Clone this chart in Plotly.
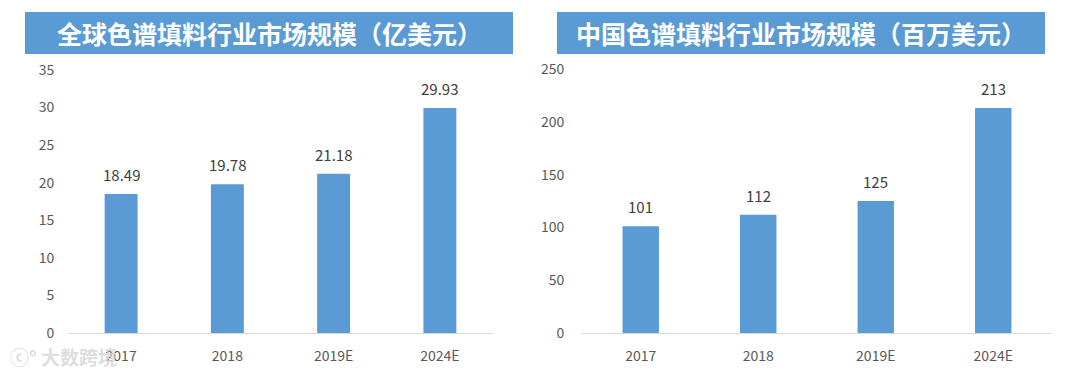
import plotly.graph_objects as go

categories = ["2017", "2018", "2019E", "2024E"]
global_values = [18.49, 19.78, 21.18, 29.93]
china_values = [101, 112, 125, 213]
global_labels = ["18.49", "19.78", "21.18", "29.93"]
china_labels = ["101", "112", "125", "213"]
title_left = "全球色谱填料行业市场规模（亿美元）"
title_right = "中国色谱填料行业市场规模（百万美元）"

OFF = 8  # page body margin
W, H = 1080 - 2 * OFF, 377 - 2 * OFF
BAR = "#5B9BD5"
FONT = "Noto Sans CJK SC, Lato, DejaVu Sans, sans-serif"

def px_x(x):
    return (x - OFF) / W

def px_y(y):
    return (H - (y - OFF)) / H

fig = go.Figure()
fig.add_trace(go.Bar(x=categories, y=global_values,
                     marker=dict(color=BAR, line=dict(width=0)),
                     width=0.31, xaxis="x", yaxis="y", hoverinfo="x+y"))
fig.add_trace(go.Bar(x=categories, y=china_values,
                     marker=dict(color=BAR, line=dict(width=0)),
                     width=0.31, xaxis="x2", yaxis="y2", hoverinfo="x+y"))

axis_common = dict(showgrid=False, zeroline=False, automargin=False,
                   tickfont=dict(size=14, color="#595959", family=FONT))
xcommon = dict(type="category", categoryorder="array", categoryarray=categories,
               showline=True, linecolor="#D9D9D9", linewidth=1,
               ticks="outside", ticklen=10, tickcolor="rgba(0,0,0,0)")
fig.update_layout(
    template="none",
    width=W, height=H, margin=dict(l=0, r=0, t=0, b=0, pad=0, autoexpand=False),
    paper_bgcolor="white", plot_bgcolor="white", showlegend=False,
    font=dict(family=FONT),
    xaxis=dict(domain=[px_x(68), px_x(493)], anchor="y", range=[-0.5, 3.5],
               **xcommon, **axis_common),
    yaxis=dict(domain=[px_y(333), px_y(70)], anchor="x", range=[0, 35], dtick=5,
               showline=False, ticks="outside", ticklen=10,
               tickcolor="rgba(0,0,0,0)", **axis_common),
    xaxis2=dict(domain=[px_x(582), px_x(1052)], anchor="y2", range=[-0.5, 3.5],
                **xcommon, **axis_common),
    yaxis2=dict(domain=[px_y(333), px_y(69)], anchor="x2", range=[0, 250], dtick=50,
                showline=False, ticks="outside", ticklen=14,
                tickcolor="rgba(0,0,0,0)", **axis_common),
)

for xr, yr, vals, labs in [("x", "y", global_values, global_labels),
                           ("x2", "y2", china_values, china_labels)]:
    for i, (v, t) in enumerate(zip(vals, labs)):
        fig.add_annotation(xref=xr, yref=yr, x=i, y=v, text=t, showarrow=False,
                           yanchor="bottom", xanchor="center", yshift=7,
                           font=dict(size=15, color="#404040", family=FONT))

for (x0, x1, txt) in [(25, 513, title_left), (557, 1045, title_right)]:
    fig.add_shape(type="rect", xref="paper", yref="paper",
                  x0=px_x(x0), x1=px_x(x1), y0=px_y(54), y1=px_y(12),
                  fillcolor=BAR, line=dict(width=0), layer="below")
    fig.add_annotation(xref="paper", yref="paper", x=px_x((x0 + x1) / 2),
                       y=px_y(33), text="<b>" + txt + "</b>", showarrow=False,
                       font=dict(size=25, color="white", family=FONT),
                       xanchor="center", yanchor="middle")

fig.add_annotation(xref="paper", yref="paper", x=px_x(8), y=px_y(356),
                   text="<b>ⓒ° 大数跨境</b>", showarrow=False, xanchor="left",
                   yanchor="middle",
                   font=dict(size=19, color="rgba(215,215,215,0.85)", family=FONT))

fig.write_html("out.html")
